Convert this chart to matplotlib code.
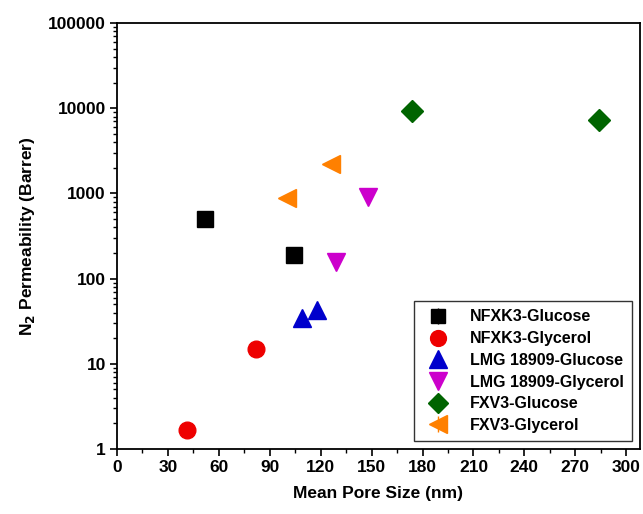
import matplotlib
matplotlib.use("Agg")
import matplotlib.pyplot as plt
from matplotlib.ticker import MultipleLocator, LogLocator, FixedFormatter, FixedLocator, NullFormatter

plt.rcParams["font.family"] = ["Liberation Sans", "DejaVu Sans"]
plt.rcParams["font.weight"] = "bold"

labels = ["NFXK3-Glucose", "NFXK3-Glycerol", "LMG 18909-Glucose",
          "LMG 18909-Glycerol", "FXV3-Glucose", "FXV3-Glycerol"]
pore_size = [[52, 104], [41, 82], [109, 118], [129, 148], [174, 284], [100, 126]]
permeability = [[500, 189], [1.67, 15], [34.5, 43], [157, 907], [9270, 7270], [883, 2210]]
errors = [[0, 0], [0, 0], [4, 5], [0, 0], [0, 0], [90, 230]]

colors = ["black", "#ee0000", "#0000cc", "#cc00cc", "#006400", "#ff8000"]
markers = ["s", "o", "^", "v", "D", "<"]
sizes = [11, 12, 13, 13, 11, 13]

fig = plt.figure(figsize=(6.43, 5.14), dpi=100)
ax = fig.add_axes([0.182, 0.1265, 0.813, 0.8285])

for lab, xs, ys, es, c, m, s in zip(labels, pore_size, permeability, errors, colors, markers, sizes):
    ax.errorbar(xs, ys, yerr=es, fmt=m, color=c, ms=s, mec=c, elinewidth=1,
                capsize=0, label=lab, linestyle="none")

ax.set_yscale("log")
ax.set_xlim(0, 308)
ax.set_ylim(1, 100000)
ax.xaxis.set_major_locator(MultipleLocator(30))
ax.xaxis.set_minor_locator(MultipleLocator(15))
ax.yaxis.set_major_locator(FixedLocator([1, 10, 100, 1000, 10000, 100000]))
ax.yaxis.set_major_formatter(FixedFormatter(["1", "10", "100", "1000", "10000", "100000"]))
ax.yaxis.set_minor_locator(LogLocator(base=10, subs=range(2, 10)))
ax.yaxis.set_minor_formatter(NullFormatter())

ax.tick_params(which="major", direction="out", length=5, width=1.2, labelsize=12.5, pad=3)
ax.tick_params(which="minor", direction="out", length=3, width=1)
for sp in ax.spines.values():
    sp.set_linewidth(1.3)

ax.set_xlabel("Mean Pore Size (nm)", fontsize=12.5, fontweight="bold", labelpad=8)
ax.set_ylabel("N$_\\mathbf{2}$ Permeability (Barrer)", fontsize=12.5, fontweight="bold", labelpad=8)

leg = ax.legend(loc="lower right", fontsize=11.5, frameon=True, fancybox=False,
                edgecolor="black", borderaxespad=0.5, handletextpad=1.0,
                labelspacing=0.42, markerscale=0.95, borderpad=0.5)
leg.get_frame().set_linewidth(1)

fig.savefig("out.png", dpi=100)
